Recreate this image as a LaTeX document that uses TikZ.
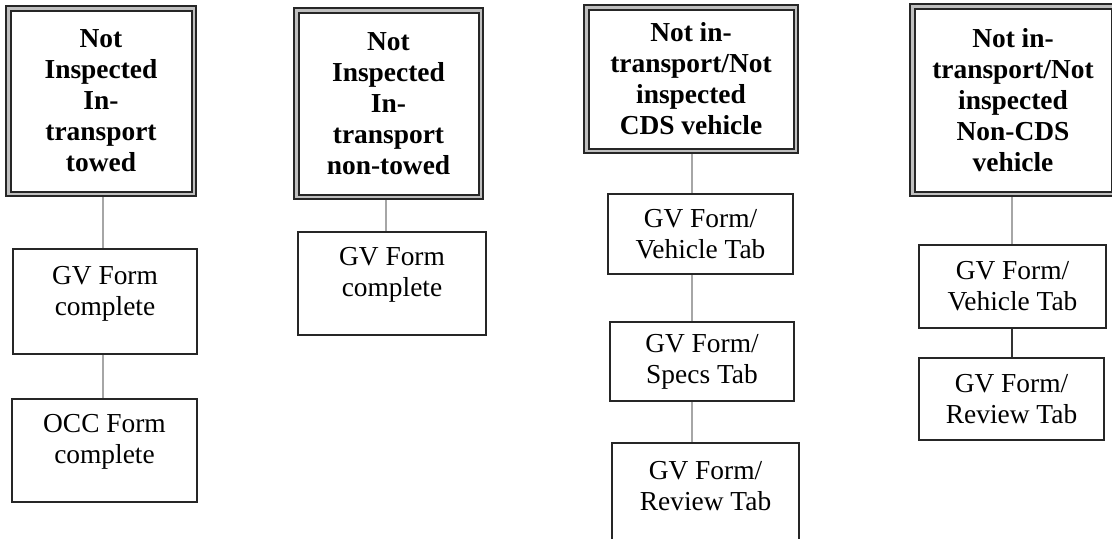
\documentclass[tikz,border=0pt]{standalone}
\usepackage{fontspec}
\setmainfont{Liberation Serif}
\usetikzlibrary{backgrounds}
\newlength\px \setlength\px{0.025cm}
\tikzset{
  topbox/.style={draw=black!85, double=gray!50, line width=2\px, double distance=2.5\px,
    align=center, font=\fontsize{19.5}{22}\selectfont\bfseries, inner sep=0pt},
  formbox/.style={draw=black!85, line width=1.6\px, align=center,
    font=\fontsize{19.5}{22}\selectfont, inner sep=0pt},
  link/.style={draw=gray!70, line width=2.5\px},
  darklink/.style={draw=black!80, line width=2.2\px},
  sz/.style 2 args={minimum width=#1\px, minimum height=#2\px},
}
\begin{document}
\begin{tikzpicture}[x=\px, y=-\px]
\useasboundingbox (0,0) rectangle (1112,539);
\clip (0,0) rectangle (1112,539);

% column 1
\node[topbox, sz={185.5}{185.5}] (a1) at (101,101) {Not\\Inspected\\In-\\transport\\towed};
\node[formbox, sz={184}{105}, text depth=22\px] (a2) at (105,301.5) {GV Form\\complete};
\node[formbox, sz={185}{103}, text depth=24\px] (a3) at (104.5,450.5) {OCC Form\\complete};

% column 2
\node[topbox, sz={184.5}{186.5}] (b1) at (388.5,103.5) {Not\\Inspected\\In-\\transport\\non-towed};
\node[formbox, sz={188}{103}, text depth=24\px] (b2) at (392,283.5) {GV Form\\complete};

% column 3
\node[topbox, sz={209.5}{143.5}] (c1) at (691,79) {Not in-\\transport/Not\\inspected\\CDS vehicle};
\node[formbox, sz={185}{80}] (c2) at (700.5,234) {GV Form/\\Vehicle Tab};
\node[formbox, sz={184}{79}] (c3) at (702,361.5) {GV Form/\\Specs Tab};
\node[formbox, sz={187}{117}, text depth=31\px] (c4) at (705.5,501.5) {GV Form/\\Review Tab};

% column 4
\node[topbox, sz={201.5}{187.5}] (d1) at (1013,100) {Not in-\\transport/Not\\inspected\\Non-CDS\\vehicle};
\node[formbox, sz={187}{83}] (d2) at (1012.5,286.5) {GV Form/\\Vehicle Tab};
\node[formbox, sz={185}{82}] (d3) at (1011.5,399) {GV Form/\\Review Tab};

\begin{scope}[on background layer]
\draw[link] (a1.south) ++(2,0) coordinate (a1s) -- (a1s |- a2.north);
\draw[link] (a1s |- a2.south) -- (a1s |- a3.north);
\draw[link] (b1.south) ++(-2.5,0) coordinate (b1s) -- (b1s |- b2.north);
\draw[link] (c1.south) ++(1,0) coordinate (c1s) -- (c1s |- c2.north);
\draw[link] (c1s |- c2.south) -- (c1s |- c3.north);
\draw[link] (c1s |- c3.south) -- (c1s |- c4.north);
\draw[link] (d1.south) ++(-1,0) coordinate (d1s) -- (d1s |- d2.north);
\draw[darklink] (d1s |- d2.south) -- (d1s |- d3.north);
\end{scope}
\end{tikzpicture}
\end{document}
